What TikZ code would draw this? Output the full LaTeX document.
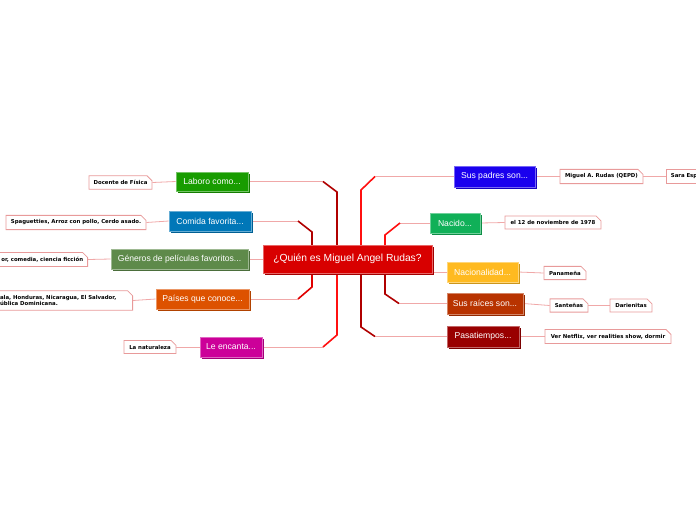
\documentclass[tikz,border=0pt]{standalone}
\usepackage{fontspec}
\setmainfont{Liberation Sans}
\newfontfamily\leaffont{DejaVu Sans}
\usetikzlibrary{shapes.misc,shadows,backgrounds}
\definecolor{cLab}{HTML}{189C00}
\definecolor{cCom}{HTML}{0077B8}
\definecolor{cGen}{HTML}{5E8A4A}
\definecolor{cPai}{HTML}{DD5200}
\definecolor{cEnc}{HTML}{CC0099}
\definecolor{cPad}{HTML}{1A00EE}
\definecolor{cNac}{HTML}{10B058}
\definecolor{cNal}{HTML}{FFBA20}
\definecolor{cRai}{HTML}{B83300}
\definecolor{cPas}{HTML}{990000}
\definecolor{cCen}{HTML}{D80000}
\definecolor{leafc}{HTML}{E89A9A}
\definecolor{thin}{HTML}{F0A8A8}
\definecolor{tDark}{HTML}{B00000}
\definecolor{tRed}{HTML}{E00000}
\definecolor{tBright}{HTML}{FF1010}
\tikzset{
  branch/.style={rectangle, minimum height=20pt, inner sep=2pt, text=white,
    font=\fontsize{8.6}{10}\selectfont, fill=#1, draw=#1!60!white, line width=0.6pt,
    general shadow={fill=#1!80!black, shadow xshift=2pt, shadow yshift=-2pt}},
  leaf/.style={chamfered rectangle, chamfered rectangle corners=north east,
    chamfered rectangle xsep=2.5pt, chamfered rectangle ysep=2.5pt,
    draw=leafc, fill=white, line width=0.8pt, inner sep=2pt, minimum height=13pt,
    font=\leaffont\bfseries\fontsize{5.4}{6.4}\selectfont},
  thinline/.style={draw=thin, line width=0.8pt},
  trunk/.style={draw=#1, line width=1.6pt, line join=miter},
}
\begin{document}
\begin{tikzpicture}[x=1pt, y=-1pt]
\useasboundingbox (0,0) rectangle (696,520);
\clip (0,0) rectangle (696,520);
% central
\node[rectangle, fill=cCen, draw=cCen!60!white, line width=0.6pt, minimum width=169pt, minimum height=28pt,
  text=white, font=\fontsize{10.3}{12}\selectfont,
  general shadow={fill=cCen!75!black, shadow xshift=2pt, shadow yshift=-2pt}] (c) at (347.5,259) {¿Quién es Miguel Angel Rudas?};
% left branches
\node[branch=cLab, minimum width=72pt, minimum height=19pt] (lab) at (212,181.5) {Laboro como...};
\node[branch=cCom, minimum width=82pt] (com) at (210,221) {Comida favorita...};
\node[branch=cGen, minimum width=137pt] (gen) at (179.5,259) {Géneros de películas favoritos...};
\node[branch=cPai, minimum width=93pt] (pai) at (202.5,299) {Países que conoce...};
\node[branch=cEnc, minimum width=62pt] (enc) at (231,347) {Le encanta...};
% right branches
\node[branch=cPad, minimum width=81pt, minimum height=21pt] (pad) at (494.5,176.5) {Sus padres son...};
\node[branch=cNac, minimum width=50pt] (nac) at (455,223) {Nacido...};
\node[branch=cNal, minimum width=71pt] (nal) at (482.5,272) {Nacionalidad...};
\node[branch=cRai, minimum width=76pt, minimum height=21pt] (rai) at (485,303.5) {Sus raíces son...};
\node[branch=cPas, minimum width=72pt, minimum height=21pt] (pas) at (483,336.5) {Pasatiempos...};
% leaves
\node[leaf, minimum width=63pt] (doc) at (120.5,182.5) {Docente de Física};
\node[leaf, minimum width=140pt] (spa) at (76,222.5) {Spaguetties, Arroz con pollo, Cerdo asado.};
\node[leaf, anchor=east, text width=86pt, align=right] (genl) at (88,259.5) {or, comedia, ciencia ficción};
\node[leaf, anchor=east, text width=131pt, align=left, minimum height=19pt] (pail) at (133,300.5) {\hspace*{3pt}ala, Honduras, Nicaragua, El Salvador,\\\hspace*{3pt}ública Dominicana.};
\node[leaf, minimum width=52pt, minimum height=12pt] (nat) at (150,347) {La naturaleza};
\node[leaf, minimum width=83pt] (mig) at (601.5,176.5) {Miguel A. Rudas (QEPD)};
\node[leaf, anchor=west, text width=40pt, align=left] (sara) at (666,176.5) {Sara Esp};
\node[leaf, minimum width=96pt, minimum height=12pt] (nov) at (553,222.5) {el 12 de noviembre de 1978};
\node[leaf, minimum width=42pt, minimum height=12pt] (pan) at (565,273) {Panameña};
\node[leaf, minimum width=38pt] (san) at (569,305.5) {Santeñas};
\node[leaf, minimum width=42pt] (dar) at (631,305.5) {Darienitas};
\node[leaf, minimum width=126pt] (net) at (608,336.5) {Ver Netflix, ver realities show, dormir};
\begin{scope}[on background layer]
% leaf connectors
\draw[thinline] (lab.west) -- (doc.east);
\draw[thinline] (com.west) -- (spa.east);
\draw[thinline] (gen.west) -- (genl.east);
\draw[thinline] (pai.west) -- (pail.east);
\draw[thinline] (enc.west) -- (nat.east);
\draw[thinline] (pad.east) -- (mig.west);
\draw[thinline] (mig.east) -- (sara.west);
\draw[thinline] (nac.east) -- (nov.west);
\draw[thinline] (nal.east) -- (pan.west);
\draw[thinline] (rai.east) -- (san.west);
\draw[thinline] (san.east) -- (dar.west);
\draw[thinline] (pas.east) -- (net.west);
% trunk connectors, left
\draw[thinline] (lab.east) -- (323,181.5);
\draw[trunk=tDark] (323,181.5) -- (337,192) -- (337,252);
\draw[thinline] (com.east) -- (298,221);
\draw[trunk=tDark] (298,221) -- (312,232) -- (312,252);
\draw[thinline] (gen.east) -- (c.west |- gen.east);
\draw[thinline] (pai.east) -- (298,299);
\draw[trunk=tRed] (298,299) -- (312,287) -- (312,266);
\draw[thinline] (enc.east) -- (323,347);
\draw[trunk=tBright] (323,347) -- (337,335) -- (337,266);
% right
\draw[thinline] (pad.west) -- (375,176.5);
\draw[trunk=tBright] (375,176.5) -- (361,190) -- (361,252);
\draw[thinline] (nac.west) -- (400,223);
\draw[trunk=tBright] (400,223) -- (385,235) -- (385,252);
\draw[thinline] (nal.west) -- (c.east |- nal.west);
\draw[thinline] (rai.west) -- (399,303.5);
\draw[trunk=tDark] (399,303.5) -- (385,294) -- (385,266);
\draw[thinline] (pas.west) -- (375,336.5);
\draw[trunk=tDark] (375,336.5) -- (361,327) -- (361,266);
\end{scope}
\end{tikzpicture}
\end{document}
